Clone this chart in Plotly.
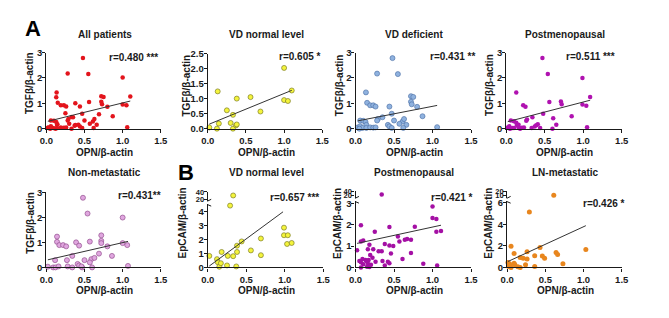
import plotly.graph_objects as go

W, H = 669, 318
PAD = 8                      # default page margin around the plot div
FW, FH = W - 2 * PAD, H - 2 * PAD

# ---------------- data ----------------
# VD normal level: TGFβ vs OPN
vdn_tgf_x = [0.02, 0.12, 0.13, 0.145, 0.25, 0.30, 0.33, 0.33, 0.37, 0.38, 0.38, 0.56, 0.69, 1.00, 1.00, 1.05, 1.10]
vdn_tgf_y = [0.04, 0.00, 1.24, 0.17, 0.61, 0.19, 0.46, 0.00, 0.11, 0.14, 1.00, 1.05, 0.57, 2.02, 0.95, 0.92, 1.27]

# VD deficient: TGFβ vs OPN
vdd_tgf_x = [0.48, 0.28, 0.55, 0.135, 0.15, 0.72, 0.75, 0.72, 0.73, 0.19, 0.23, 0.26, 0.44, 0.80, 0.87,
             0.47, 0.35, 0.29, 0.28, 0.50, 0.61, 0.63, 0.57, 0.66, 0.06, 0.10, 0.13, 0.14, 0.42, 0.44,
             0.47, 0.62, 1.06, 0.03, 0.06, 0.09, 0.14, 0.19, 0.23, 0.26, 0.05]
vdd_tgf_y = [2.78, 2.17, 2.15, 1.43, 1.02, 1.28, 1.25, 1.06, 0.96, 0.92, 0.92, 0.87, 0.87, 0.86, 0.49,
             0.59, 0.45, 0.38, 0.32, 0.32, 0.28, 0.38, 0.19, 0.15, 0.32, 0.31, 0.26, 0.15, 0.15, 0.09,
             0.03, 0.03, 0.06, 0.05, 0.10, 0.03, 0.03, 0.05, 0.04, 0.05, 0.00]

# All patients = VD normal + VD deficient
all_tgf_x = vdn_tgf_x + vdd_tgf_x
all_tgf_y = vdn_tgf_y + vdd_tgf_y

# Postmenopausal: TGFβ vs OPN
post_tgf_x = [0.47, 0.54, 0.99, 0.13, 0.56, 0.71, 0.72, 1.09, 0.99, 1.04, 0.22, 0.25, 0.48, 0.85, 0.34,
              0.27, 0.26, 0.61, 0.65, 0.06, 0.10, 0.13, 0.14, 0.16, 0.39, 0.41, 0.37, 0.44, 0.33, 0.60,
              1.05, 0.02, 0.04, 0.08, 0.10, 0.16, 0.20, 0.23, 0.05, 0.18]
post_tgf_y = [2.78, 2.15, 2.00, 1.43, 1.05, 1.07, 0.96, 1.25, 0.95, 0.90, 0.92, 0.86, 0.59, 0.49, 0.45,
              0.36, 0.31, 0.41, 0.15, 0.32, 0.29, 0.23, 0.13, 0.15, 0.13, 0.17, 0.09, 0.03, 0.03, 0.00,
              0.06, 0.05, 0.10, 0.03, 0.03, 0.05, 0.04, 0.05, 0.00, 0.00]

# Non-metastatic: TGFβ vs OPN
nonm_tgf_x = [0.48, 0.54, 1.00, 0.14, 0.14, 0.39, 0.57, 0.72, 0.72, 0.72, 0.17, 0.22, 0.26, 0.43, 0.80,
              1.00, 1.06, 0.86, 0.34, 0.50, 0.27, 0.59, 0.63, 0.69, 0.57, 0.115, 0.41, 0.43, 0.47, 0.60,
              1.07, 0.02, 0.09, 0.12, 0.16, 0.28, 0.34, 0.46]
nonm_tgf_y = [2.78, 2.15, 1.99, 1.23, 1.02, 1.00, 1.03, 1.28, 1.06, 0.97, 0.89, 0.89, 0.84, 0.87, 0.84,
              0.97, 0.89, 0.46, 0.46, 0.29, 0.29, 0.33, 0.38, 0.55, 0.20, 0.29, 0.14, 0.08, 0.00, 0.00,
              0.06, 0.03, 0.00, 0.00, 0.04, 0.04, 0.00, 0.04]

# VD normal level: EpCAM vs OPN
vdn_ep_x = [0.02, 0.12, 0.13, 0.15, 0.17, 0.18, 0.26, 0.25, 0.33, 0.37, 0.38, 0.38, 0.44, 0.56, 0.69, 0.69,
            0.99, 0.99, 1.04, 1.03, 1.09, 0.33, 0.29]
vdn_ep_y = [0.82, 0.59, 0.37, 0.05, 0.30, 1.10, 0.82, 0.14, 0.80, 0.07, 1.10, 1.55, 1.85, 1.21, 2.06, 0.87,
            2.83, 2.29, 2.29, 1.67, 1.74, 30.0, 4.4]

# Postmenopausal: EpCAM vs OPN
post_ep_x = [0.34, 1.00, 1.00, 1.05, 1.05, 1.11, 0.07, 0.44, 0.25, 0.77, 0.55, 0.57, 0.64, 0.67, 0.72,
             0.07, 0.10, 0.18, 0.38, 0.44, 0.49, 0.02, 0.16, 0.23, 0.30, 0.34, 0.46, 0.19, 0.22, 0.72,
             0.61, 0.09, 0.13, 0.14, 0.17, 0.05, 0.07, 0.35, 0.42, 0.44, 0.10, 0.16, 0.20, 0.26, 0.38,
             0.88, 1.06, 0.07, 0.15, 0.18]
post_ep_y = [25.0, 2.85, 2.32, 2.27, 1.67, 1.71, 1.98, 1.89, 1.67, 1.91, 1.45, 1.21, 1.30, 1.33, 1.29,
             1.21, 1.26, 1.06, 1.10, 1.03, 1.00, 0.80, 0.85, 0.85, 0.76, 0.76, 0.65, 0.58, 0.45, 0.68,
             0.39, 0.39, 0.35, 0.30, 0.35, 0.30, 0.24, 0.30, 0.27, 0.20, 0.15, 0.20, 0.12, 0.27, 0.09,
             0.17, 0.09, 0.00, 0.03, 0.02]

# LN-metastatic: EpCAM vs OPN
lnm_ep_x = [0.61, 0.29, 0.05, 0.43, 0.09, 0.26, 0.17, 0.21, 0.26, 0.36, 0.46, 0.49, 0.64, 0.66, 1.03,
            0.73, 0.01, 0.03, 0.04, 0.09, 0.10, 0.05, 0.14, 0.17, 0.24, 0.36, 0.02]
lnm_ep_y = [11.0, 5.15, 1.97, 1.85, 1.30, 1.45, 0.91, 0.85, 0.79, 1.09, 1.06, 0.85, 1.39, 1.21, 1.67,
            0.33, 0.45, 0.33, 0.18, 0.39, 0.24, 0.00, 0.06, 0.00, 0.24, 0.09, 0.09]

# regression lines (slope, intercept)
fit_slope = [0.74, 1.04, 0.59, 0.79, 0.70, 4.03, 0.78, 3.26]
fit_icpt = [0.275, 0.13, 0.29, 0.26, 0.29, 0.02, 1.11, 0.52]

titles = ["All patients", "VD normal level", "VD deficient", "Postmenopausal",
          "Non-metastatic", "VD normal level", "Postmenopausal", "LN-metastatic"]
r_labels = ["r=0.480 ***", "r=0.605 *", "r=0.431 **", "r=0.511 ***",
            "r=0.431**", "r=0.657 ***", "r=0.421 *", "r=0.426 *"]
y_titles = ["TGFβ/β-actin"] * 5 + ["EpCAM/β-actin"] * 3
x_title = "OPN/β-actin"
x_ticks = [0, 0.5, 1.0, 1.5]
x_ticktext = ["0.0", "0.5", "1.0", "1.5"]

data_x = [all_tgf_x, vdn_tgf_x, vdd_tgf_x, post_tgf_x, nonm_tgf_x, vdn_ep_x, post_ep_x, lnm_ep_x]
data_y = [all_tgf_y, vdn_tgf_y, vdd_tgf_y, post_tgf_y, nonm_tgf_y, vdn_ep_y, post_ep_y, lnm_ep_y]

# ---------------- styles / layout geometry (page pixels) ----------------
FONT = "Liberation Sans"
INK = "#1a1a1a"
markers = [
    dict(color="#e3141c", size=4.5, line=dict(width=0)),
    dict(color="#f4f43c", size=5, line=dict(color="#7d7d2a", width=0.7)),
    dict(color="#8fb2df", size=5, line=dict(color="#5577aa", width=0.7)),
    dict(color="#b012b0", size=4.5, line=dict(width=0)),
    dict(color="#e0a6df", size=5, line=dict(color="#94508f", width=0.7)),
    dict(color="#f4f43c", size=5, line=dict(color="#7d7d2a", width=0.7)),
    dict(color="#a410a4", size=4.5, line=dict(width=0)),
    dict(color="#e8861e", size=5, line=dict(width=0)),
]

px_x = [(40, 157), (205, 322), (356, 474), (510, 628),
        (40, 157), (205, 323), (356, 474), (511, 628)]
px_y = [
    (127, 48, 3.0, [0, 1, 2, 3], ["0", "1", "2", "3"]),
    (127, 49, 2.5, [0, 0.5, 1, 1.5, 2, 2.5], ["0.0", "0.5", "1.0", "1.5", "2.0", "2.5"]),
    (127, 48, 3.0, [0, 1, 2, 3], ["0", "1", "2", "3"]),
    (127, 48, 3.0, [0, 1, 2, 3], ["0", "1", "2", "3"]),
    (271, 193, 3.0, [0, 1, 2, 3], ["0", "1", "2", "3"]),
    (271, 205.4, 4.5, [0, 1, 2, 3, 4], ["0", "1", "2", "3", "4"]),
    (271, 202.3, 3.1, [0, 1, 2, 3], ["0", "1", "2", "3"]),
    (271, 202.3, 6.15, [0, 2, 4, 6], ["0", "2", "4", "6"]),
]
upper = {
    5: (202.0, 192.7, [14.5, 40], [20, 40]),
    6: (199.0, 191.7, [10.8, 40], [20, 40]),
    7: (199.0, 191.7, [4.8, 20], [10, 20]),
}
ytitle_pos = [(23, 80), (183, 82), (339, 82), (493, 82),
              (23, 225), (179, 225), (337, 225), (491, 225)]
rlab_pos = [(102, 53), (276, 52), (430, 52), (569, 52),
            (111, 196), (267, 198), (431, 198), (586, 205)]
title_y = [29, 29, 29, 29, 173, 173, 173, 173]
xtitle_y = [152, 152, 152, 152, 295, 295, 295, 295]


def fx(p):
    return (p - PAD) / FW


def fy(p):
    return 1 - (p - PAD) / FH


fig = go.Figure()


def axis_style(size=9.5):
    return dict(showline=True, linecolor=INK, linewidth=1.3, ticks="outside", ticklen=3,
                tickwidth=1.3, tickcolor=INK, showgrid=False, zeroline=False,
                tickfont=dict(family=FONT, size=size, color=INK, weight="bold"), fixedrange=True)


annotations = []
shapes = []
for i in range(8):
    n = i + 1
    xa = "x" if n == 1 else f"x{n}"
    ya = "y" if n == 1 else f"y{n}"
    x0p, x1p = px_x[i]
    yb, yt, ytop, yv, yt_text = px_y[i]
    fig.layout[f"xaxis{n if n > 1 else ''}"] = dict(
        domain=[fx(x0p), fx(x1p)], range=[0, 1.5], anchor=ya,
        tickvals=x_ticks, ticktext=x_ticktext, **axis_style())
    fig.layout[f"yaxis{n if n > 1 else ''}"] = dict(
        domain=[fy(yb), fy(yt)], range=[0, ytop], anchor=xa,
        tickvals=yv, ticktext=yt_text, ticklabelstandoff=-2, **axis_style())

    xs, ys = data_x[i], data_y[i]
    lo_x = [x for x, y in zip(xs, ys) if y <= ytop]
    lo_y = [y for y in ys if y <= ytop]
    fig.add_trace(go.Scatter(x=lo_x, y=lo_y, mode="markers", marker=markers[i],
                             xaxis=xa, yaxis=ya, cliponaxis=False, showlegend=False))

    m, b = fit_slope[i], fit_icpt[i]
    lx0, lx1 = min(xs), max(xs)
    if m * lx1 + b > ytop * 0.9:
        lx1 = min(lx1, (ytop * 0.88 - b) / m)
    fig.add_trace(go.Scatter(x=[lx0, lx1], y=[m * lx0 + b, m * lx1 + b], mode="lines",
                             line=dict(color="#333333", width=1.0), xaxis=xa, yaxis=ya,
                             cliponaxis=False, showlegend=False))

    if i in upper:
        ub, ut, urng, uvals = upper[i]
        un = 8 + len([k for k in upper if k < i]) + 1
        uya = f"y{un}"
        fig.layout[f"yaxis{un}"] = dict(
            domain=[fy(ub), fy(ut)], range=urng, anchor=xa,
            tickvals=uvals, ticktext=[str(v) for v in uvals], ticklabelstandoff=-2,
            **axis_style(7.5))
        hi_x = [x for x, y in zip(xs, ys) if y > ytop]
        hi_y = [y for y in ys if y > ytop]
        fig.add_trace(go.Scatter(x=hi_x, y=hi_y, mode="markers", marker=markers[i],
                                 xaxis=xa, yaxis=uya, cliponaxis=False, showlegend=False))
        for yy, dy in ((yt, 2.0), (ub, -1.7)):
            shapes.append(dict(type="line", xref="paper", yref="paper",
                               x0=fx(x0p - 0.5), y0=fy(yy + 0.3), x1=fx(x0p + 3.5), y1=fy(yy + dy),
                               line=dict(color=INK, width=1)))

    cx = (x0p + x1p) / 2 + 1
    bold = dict(family=FONT, size=10, color=INK, weight="bold")
    annotations.append(dict(text=titles[i], x=fx(cx), y=fy(title_y[i]), xref="paper", yref="paper",
                            showarrow=False, xanchor="center", yanchor="middle", font=bold))
    annotations.append(dict(text=x_title, x=fx(cx), y=fy(xtitle_y[i]), xref="paper", yref="paper",
                            showarrow=False, xanchor="center", yanchor="middle", font=bold))
    tx, ty = ytitle_pos[i]
    annotations.append(dict(text=y_titles[i], x=fx(tx), y=fy(ty), xref="paper", yref="paper",
                            showarrow=False, xanchor="center", yanchor="middle", textangle=-90,
                            font=bold))
    rx, ry = rlab_pos[i]
    annotations.append(dict(text=r_labels[i], x=fx(rx), y=fy(ry), xref="paper", yref="paper",
                            showarrow=False, xanchor="left", yanchor="middle", font=bold))

for letter, (lx, ly) in (("A", (26, 23)), ("B", (183, 172))):
    annotations.append(dict(text=letter, x=fx(lx), y=fy(ly), xref="paper", yref="paper",
                            showarrow=False, xanchor="center", yanchor="middle",
                            font=dict(family=FONT, size=22, color="#000000", weight="bold")))

fig.update_layout(width=FW, height=FH, margin=dict(l=0, r=0, t=0, b=0),
                  paper_bgcolor="white", plot_bgcolor="white", showlegend=False,
                  annotations=annotations, shapes=shapes)

fig.write_html("out.html")
